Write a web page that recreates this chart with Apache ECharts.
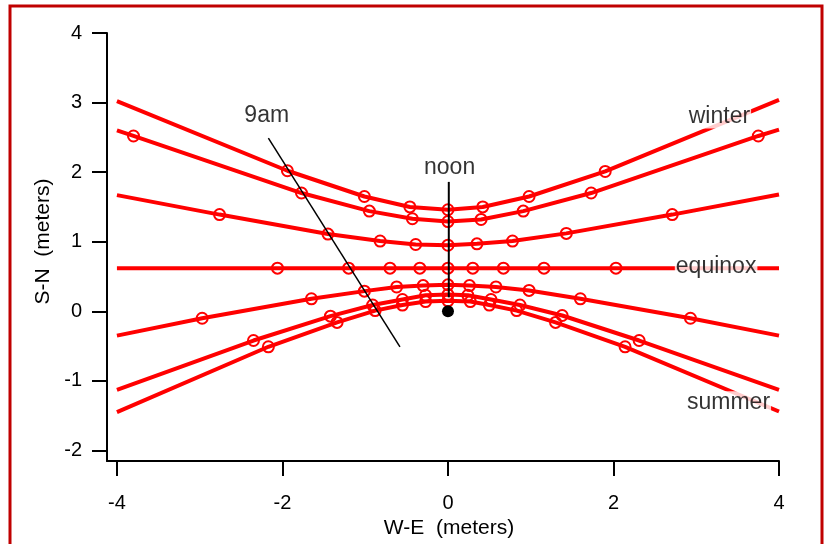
<!DOCTYPE html>
<html>
<head>
<meta charset="utf-8">
<script src="https://cdn.jsdelivr.net/npm/echarts@6/dist/echarts.min.js"></script>
<style>
  html, body { margin: 0; padding: 0; background: #fff; }
  #chart { width: 825px; height: 544px; }
</style>
</head>
<body>
<div id="chart"></div>
<script>
// tick labels
var xTicks = [-4, -2, 0, 2, 4];
var yTicks = [-2, -1, 0, 1, 2, 3, 4];

// sun shadow tracks (first/last point = where the line leaves the plot, no marker)
var xs1 = [-4, -1.94, -1.01, -0.46, 0, 0.42, 0.98, 1.90, 4];
var ys1 = [3.02, 2.02, 1.65, 1.50, 1.46, 1.50, 1.65, 2.01, 3.04];
var xs2 = [-4, -3.80, -1.77, -0.95, -0.43, 0, 0.40, 0.91, 1.73, 3.75, 4];
var ys2 = [2.60, 2.52, 1.70, 1.44, 1.33, 1.29, 1.32, 1.44, 1.70, 2.52, 2.61];
var xs3 = [-4, -2.76, -1.45, -0.82, -0.39, 0, 0.35, 0.78, 1.43, 2.71, 4];
var ys3 = [1.67, 1.39, 1.11, 1.01, 0.96, 0.95, 0.97, 1.01, 1.12, 1.39, 1.68];
var xs4 = [-4, -2.06, -1.20, -0.70, -0.34, 0, 0.30, 0.67, 1.16, 2.03, 4];
var ys4 = [0.62, 0.62, 0.62, 0.62, 0.62, 0.62, 0.62, 0.62, 0.62, 0.62, 0.62];
var xs5 = [-4, -2.97, -1.65, -1.01, -0.62, -0.30, 0, 0.26, 0.58, 0.98, 1.60, 2.93, 4];
var ys5 = [-0.35, -0.10, 0.18, 0.29, 0.35, 0.37, 0.38, 0.37, 0.35, 0.30, 0.18, -0.10, -0.35];
var xs6 = [-4, -2.35, -1.42, -0.91, -0.55, -0.27, 0, 0.24, 0.52, 0.87, 1.38, 2.31, 4];
var ys6 = [-1.13, -0.42, -0.07, 0.09, 0.17, 0.23, 0.24, 0.23, 0.17, 0.09, -0.06, -0.42, -1.13];
var xs7 = [-4, -2.17, -1.34, -0.88, -0.55, -0.27, 0, 0.27, 0.50, 0.83, 1.30, 2.14, 4];
var ys7 = [-1.45, -0.51, -0.16, 0.01, 0.09, 0.14, 0.15, 0.14, 0.09, 0.01, -0.16, -0.51, -1.44];

// hour lines
var noonX = [0.01, 0.01];
var noonY = [1.86, 0.20];
var nineX = [-2.17, -0.58];
var nineY = [2.49, -0.51];

// gnomon foot
var gnomonX = [0];
var gnomonY = [0];

// annotations
var noteNames = ['9am', 'noon', 'winter', 'equinox', 'summer'];
var noteX = [-2.19, 0.02, 3.28, 3.24, 3.39];
var noteY = [2.81, 2.06, 2.80, 0.64, -1.32];

var tracksX = [xs1, xs2, xs3, xs4, xs5, xs6, xs7];
var tracksY = [ys1, ys2, ys3, ys4, ys5, ys6, ys7];

function pairs(xs, ys) {
  return xs.map(function (x, i) { return [x, ys[i]]; });
}

function trackData(xs, ys) {
  return xs.map(function (x, i) {
    var item = { value: [x, ys[i]] };
    if (i === 0 || i === xs.length - 1) item.symbol = 'none';
    return item;
  });
}

var font = 'Liberation Sans, Arial, sans-serif';
var series = [];

tracksX.forEach(function (xs, k) {
  series.push({
    type: 'line',
    data: trackData(xs, tracksY[k]),
    symbol: 'circle',
    symbolSize: 11,
    showAllSymbol: true,
    lineStyle: { color: '#ff0000', width: 4 },
    itemStyle: { color: 'rgba(0,0,0,0)', borderColor: '#ff0000', borderWidth: 2 },
    z: 2
  });
});

series.push({
  type: 'line', data: pairs(noonX, noonY), symbol: 'none',
  lineStyle: { color: '#000', width: 2 }, z: 3
});
series.push({
  type: 'line', data: pairs(nineX, nineY), symbol: 'none',
  lineStyle: { color: '#000', width: 1.5 }, z: 3
});
series.push({
  type: 'scatter', data: pairs(gnomonX, gnomonY), symbol: 'circle', symbolSize: 12,
  itemStyle: { color: '#000', opacity: 1 }, z: 4
});
series.push({
  type: 'scatter',
  data: noteNames.map(function (n, i) { return { name: n, value: [noteX[i], noteY[i]] }; }),
  symbolSize: 1,
  itemStyle: { color: 'rgba(0,0,0,0)' },
  label: {
    show: true, position: 'inside', formatter: '{b}',
    fontFamily: font, fontSize: 23, color: '#000',
    backgroundColor: '#fff', padding: [1, 1, 0, 1]
  },
  z: 5
});

var chart = echarts.init(document.getElementById('chart'));
chart.setOption({
  animation: false,
  backgroundColor: '#fff',
  graphic: [{
    type: 'rect',
    shape: { x: 10, y: 6, width: 812, height: 600 },
    style: { fill: 'none', stroke: '#c00000', lineWidth: 3 },
    silent: true
  }],
  grid: { left: 107, right: 46, top: 33, bottom: 80 },
  xAxis: {
    type: 'value', min: -4.12, max: 4,
    name: 'W-E  (meters)', nameLocation: 'middle', nameGap: 50,
    nameTextStyle: { fontFamily: font, fontSize: 21, color: '#000', padding: [0, 0, 0, 12] },
    axisLine: { show: true, onZero: false, lineStyle: { color: '#000', width: 2 } },
    axisTick: { show: true, customValues: xTicks, length: 15, lineStyle: { color: '#000', width: 2 } },
    axisLabel: { customValues: xTicks, margin: 32, fontFamily: font, fontSize: 20, color: '#000' },
    splitLine: { show: false }
  },
  yAxis: {
    type: 'value', min: -2.153, max: 4,
    name: 'S-N  (meters)', nameLocation: 'middle', nameGap: 40,
    nameTextStyle: { fontFamily: font, fontSize: 21, color: '#000', padding: [0, 0, 0, 11] },
    axisLine: { show: true, onZero: false, lineStyle: { color: '#000', width: 2 } },
    axisTick: { show: true, customValues: yTicks, length: 15, lineStyle: { color: '#000', width: 2 } },
    axisLabel: { customValues: yTicks, margin: 25, fontFamily: font, fontSize: 20, color: '#000' },
    splitLine: { show: false }
  },
  series: series
});
</script>
</body>
</html>
